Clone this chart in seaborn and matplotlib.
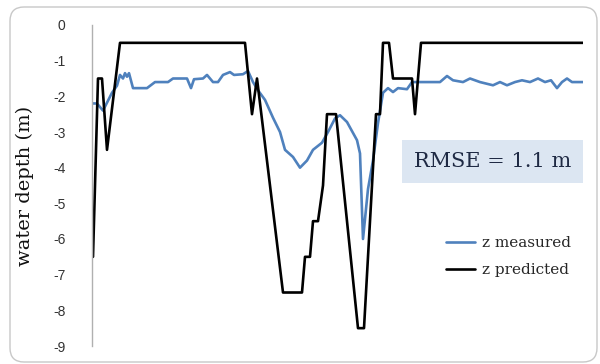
import matplotlib
matplotlib.use("Agg")
import matplotlib.pyplot as plt
from matplotlib.patches import FancyBboxPatch, Rectangle
from matplotlib.transforms import IdentityTransform
import numpy as np
import pandas as pd
import seaborn as sns

# Distance along the transect and water depth (m) for each series
measured_dist = [0, 5, 11, 20, 25, 28, 31, 33, 35, 37, 41, 55, 63, 76, 81, 95, 99, 102,
                 111, 115, 121, 126, 131, 138, 142, 151, 156, 161, 166, 173, 181, 188,
                 193, 201, 208, 215, 221, 230, 236, 243, 248, 255, 265, 268, 271, 276,
                 281, 286, 291, 296, 301, 306, 315, 320, 328, 348, 355, 361, 371, 378,
                 388, 401, 408, 415, 423, 430, 438, 446, 453, 459, 465, 470, 475, 480, 491]
measured_depth = [-2.2, -2.2, -2.4, -1.9, -1.7, -1.4, -1.5, -1.35, -1.45, -1.35, -1.77,
                  -1.77, -1.6, -1.6, -1.5, -1.5, -1.77, -1.52, -1.5, -1.4, -1.6, -1.6,
                  -1.4, -1.32, -1.4, -1.38, -1.29, -1.6, -1.83, -2.1, -2.6, -3.0, -3.5,
                  -3.7, -4.0, -3.8, -3.5, -3.3, -3.0, -2.62, -2.53, -2.72, -3.23, -3.6,
                  -6.0, -4.6, -3.8, -2.75, -1.9, -1.77, -1.88, -1.77, -1.8, -1.6, -1.6,
                  -1.6, -1.43, -1.55, -1.6, -1.5, -1.6, -1.69, -1.6, -1.69, -1.6, -1.55,
                  -1.6, -1.5, -1.6, -1.55, -1.77, -1.6, -1.5, -1.6, -1.6]

predicted_dist = [1, 6, 10, 15, 28, 153, 160, 165, 191, 210, 213, 218, 221, 226, 231,
                  235, 244, 266, 272, 284, 288, 291, 297, 301, 320, 323, 329, 491]
predicted_depth = [-6.5, -1.5, -1.5, -3.5, -0.5, -0.5, -2.5, -1.5, -7.5, -7.5, -6.5,
                   -6.5, -5.5, -5.5, -4.5, -2.5, -2.5, -8.5, -8.5, -2.5, -2.5, -0.5,
                   -0.5, -1.5, -1.5, -2.5, -0.5, -0.5]

series_names = ["z measured", "z predicted"]
series_colors = ["#4f81bd", "#000000"]
y_ticks = list(range(0, -10, -1))
rmse_label = "RMSE = 1.1 m"

df = pd.concat([
    pd.DataFrame({"distance": measured_dist, "depth": measured_depth, "series": series_names[0]}),
    pd.DataFrame({"distance": predicted_dist, "depth": predicted_depth, "series": series_names[1]}),
], ignore_index=True)

sns.set_theme(style="white")
plt.rcParams["font.family"] = ["DejaVu Sans"]

W, H = 600, 364
fig = plt.figure(figsize=(W / 100, H / 100), dpi=100)
fig.patch.set_facecolor("white")

# Plot area in pixel units
left, right, top, bottom = 92, 583, 25, 346
ax = fig.add_axes([left / W, 1 - bottom / H, (right - left) / W, (bottom - top) / H])

sns.lineplot(data=df, x="distance", y="depth", hue="series", palette=series_colors,
             hue_order=series_names, sort=False, estimator=None, linewidth=1.9,
             ax=ax, legend=False)

ax.set_xlim(0, 491)
ax.set_ylim(-9, 0)
ax.set_yticks(y_ticks)
ax.set_yticklabels([str(t) for t in y_ticks], fontsize=10, color="#333333",
                   family="Liberation Sans")
ax.set_xticks([])
ax.tick_params(axis="y", length=0, pad=19)
ax.set_xlabel("")
ax.set_ylabel("water depth (m)", family="DejaVu Serif", fontsize=14, color="#111111",
              labelpad=14)
for side in ["top", "right", "bottom"]:
    ax.spines[side].set_visible(False)
ax.spines["left"].set_color("#b0b0b0")
ax.spines["left"].set_linewidth(1.0)
ax.patch.set_alpha(0)

# RMSE annotation box
box_x0, box_x1 = (402 - left) / (right - left), 1.0
box_y0, box_y1 = (bottom - 183) / (bottom - top), (bottom - 140) / (bottom - top)
ax.add_patch(Rectangle((box_x0, box_y0), box_x1 - box_x0, box_y1 - box_y0,
                       transform=ax.transAxes, facecolor="#dce6f2", edgecolor="none",
                       zorder=1))
ax.text((box_x0 + box_x1) / 2, (box_y0 + box_y1) / 2, rmse_label, transform=ax.transAxes,
        ha="center", va="center", fontsize=15, family="DejaVu Serif", color="#1f2a44",
        zorder=2)

# Legend
handles = [plt.Line2D([], [], color=c, lw=1.9) for c in series_colors]
fig.legend(handles, series_names, loc="upper left",
           bbox_to_anchor=(446 / W, 1 - 236 / H), frameon=False, borderpad=0,
           borderaxespad=0, handlelength=1.9, handletextpad=0.45, labelspacing=0.85,
           prop={"family": "DejaVu Serif", "size": 11})

# Rounded chart border
fig.add_artist(FancyBboxPatch((10, H - 362), 587, 355,
                              boxstyle="round,pad=0,rounding_size=14",
                              transform=IdentityTransform(), facecolor="none",
                              edgecolor="#c8c8c8", linewidth=1.0))

fig.savefig("out.png", dpi=100)
